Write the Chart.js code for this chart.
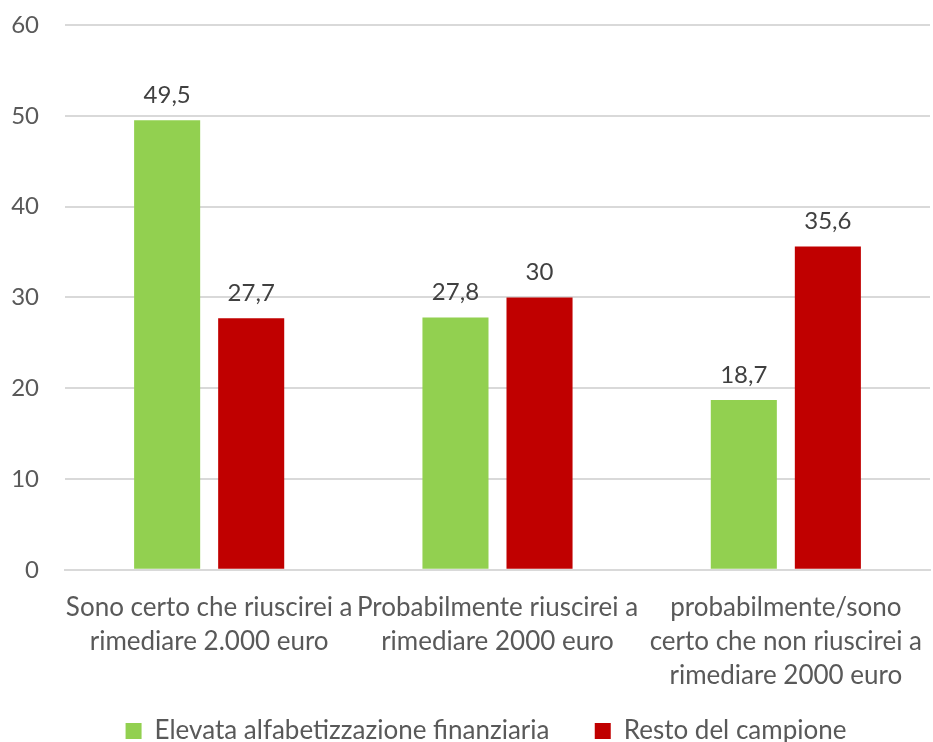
<!DOCTYPE html>
<html>
<head>
<meta charset="utf-8">
<script src="https://cdn.jsdelivr.net/npm/chart.js@4"></script>
<style>
  body { margin: 0; background: #fff; }
  #wrap { width: 933px; height: 742px; }
</style>
</head>
<body>
<div id="wrap"><canvas id="grafico"></canvas></div>
<script>
const categorie = [
    ['Sono certo che riuscirei a', 'rimediare 2.000 euro'],
    ['Probabilmente riuscirei a', 'rimediare 2000 euro'],
    ['probabilmente/sono', 'certo che non riuscirei a', 'rimediare 2000 euro']
];
const elevata = [49.5, 27.8, 18.7];
const resto = [27.7, 30, 35.6];
const tickY = [0, 10, 20, 30, 40, 50, 60];

const FONT = "Lato, 'Open Sans', sans-serif";
const GRIGIO = '#595959';

// etichette con la virgola sopra le barre
const etichette = {
    id: 'etichette',
    afterLayout(chart) {
        // legenda un po' spostata a destra come nell'originale
        chart.legend.left += 16;
        chart.legend.right += 16;
    },
    afterDatasetsDraw(chart) {
        const c = chart.ctx;
        c.save();
        c.font = '24px ' + FONT;
        c.fillStyle = '#404040';
        c.textAlign = 'center';
        c.textBaseline = 'bottom';
        chart.data.datasets.forEach((ds, i) => {
            chart.getDatasetMeta(i).data.forEach((bar, j) => {
                const txt = String(ds.data[j]).replace('.', ',');
                c.fillText(txt, bar.x, bar.y - 13);
            });
        });
        c.restore();
    }
};

Chart.defaults.font.family = FONT;
Chart.defaults.color = GRIGIO;

new Chart(document.getElementById('grafico'), {
    type: 'bar',
    data: {
        labels: categorie,
        datasets: [
            {
                label: 'Elevata alfabetizzazione finanziaria',
                data: elevata,
                backgroundColor: '#92d050'
            },
            {
                label: 'Resto del campione',
                data: resto,
                backgroundColor: '#c00000'
            }
        ]
    },
    options: {
        responsive: true,
        maintainAspectRatio: false,
        animation: false,
        layout: { padding: { top: 25, right: 3, left: 10, bottom: -12 } },
        datasets: {
            bar: { categoryPercentage: 0.583, barPercentage: 0.786 }
        },
        scales: {
            y: {
                min: 0,
                max: 60,
                afterBuildTicks: ax => { ax.ticks = tickY.map(v => ({ value: v })); },
                afterFit: ax => { ax.width = 55; ax.paddingTop = 0; },
                grid: { color: '#d9d9d9', lineWidth: 2, drawTicks: false },
                border: { display: false },
                ticks: { font: { size: 24 }, padding: 26, color: GRIGIO }
            },
            x: {
                afterFit: ax => { ax.paddingLeft = 0; ax.paddingRight = 0; },
                grid: { display: false },
                border: { color: '#d9d9d9', width: 2 },
                ticks: { font: { size: 26, lineHeight: 1.31 }, padding: 13, color: GRIGIO, maxRotation: 0, autoSkip: false }
            }
        },
        plugins: {
            legend: {
                position: 'bottom',
                labels: {
                    font: { size: 26 },
                    color: GRIGIO,
                    boxWidth: 16,
                    boxHeight: 16,
                    padding: 12,
                    generateLabels: chart => {
                        const items = Chart.defaults.plugins.legend.labels.generateLabels(chart);
                        items[0].text += '     ';
                        return items;
                    }
                }
            },
            tooltip: { enabled: false }
        }
    },
    plugins: [etichette]
});
</script>
</body>
</html>
